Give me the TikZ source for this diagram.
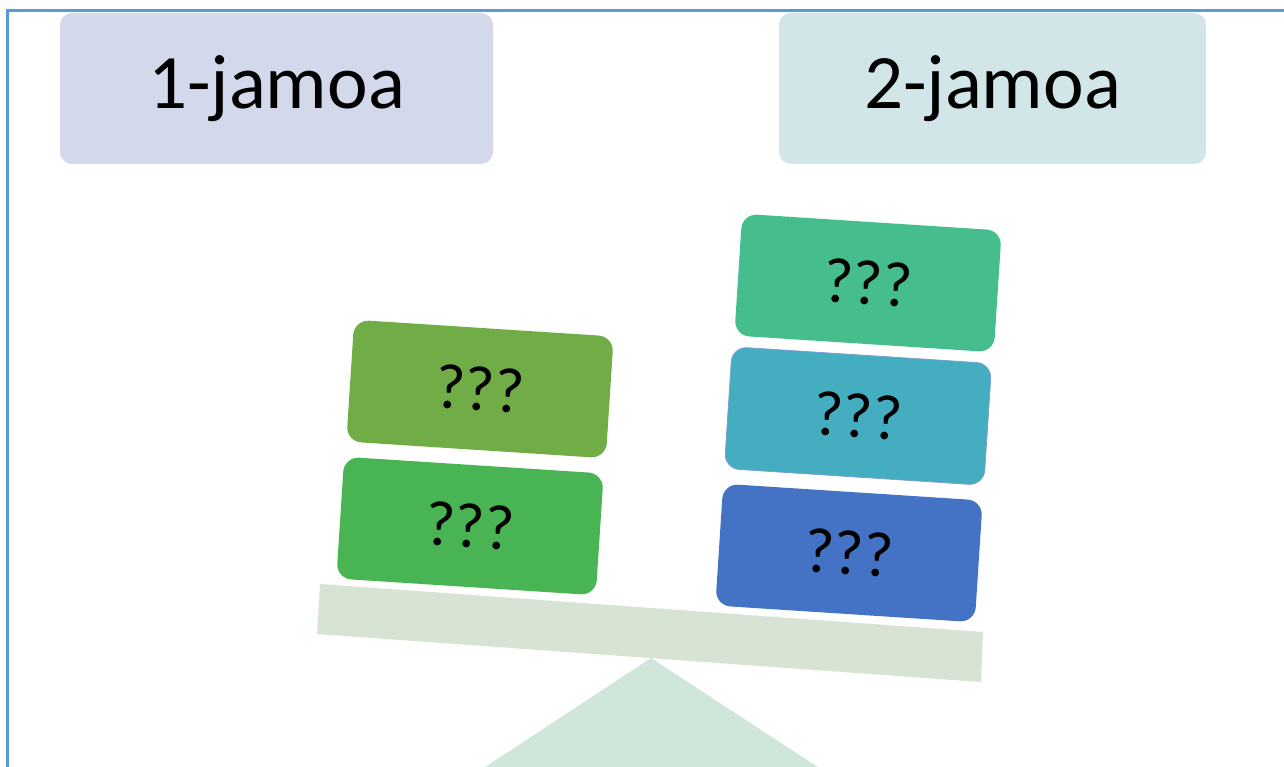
\documentclass[tikz,border=0pt]{standalone}
\usepackage{fontspec}
\setmainfont{Carlito}
\definecolor{frameblue}{HTML}{5B9BD5}
\definecolor{hdrA}{HTML}{D3D8EA}
\definecolor{hdrB}{HTML}{D2E5E8}
\definecolor{olive}{HTML}{70AD47}
\definecolor{grn}{HTML}{48B453}
\definecolor{mint}{HTML}{45BD8C}
\definecolor{teal}{HTML}{44AEC0}
\definecolor{blu}{HTML}{4472C4}
\definecolor{beamc}{HTML}{D7E4D3}
\definecolor{pivotc}{HTML}{D1E6DA}
\begin{document}
\begin{tikzpicture}[x=1pt,y=-1pt,
  hdr/.style={rounded corners=12pt, minimum height=151pt, inner sep=0pt,
    font=\fontsize{77}{80}\selectfont},
  blk/.style={rounded corners=15pt, minimum width=260pt, minimum height=122pt, inner sep=0pt,
    rotate=-3.7, font=\fontsize{64}{68}\selectfont}]
\useasboundingbox (0,0) rectangle (1284,767);
\clip (0,0) rectangle (1284,767);
\fill[white] (0,0) rectangle (1284,767);
% frame
\draw[frameblue, line width=3pt] (7,800) -- (7,11) -- (1300,11);
% headers
\node[hdr, fill=hdrA, minimum width=433pt] (h1) at (276.5,88.5) {1-jamoa};
\node[hdr, fill=hdrB, minimum width=427pt] (h2) at (992.5,88.5) {2-jamoa};
% pivot triangle
\fill[pivotc] (651,658) coordinate (apex) -- (470,777) -- (833,777) -- cycle;
% beam
\fill[beamc] (320,584) coordinate (b1) -- (983,632) coordinate (b2) -- (981,682) coordinate (b3) -- (317,634) coordinate (b4) -- cycle;
% left stack
\node[blk, fill=olive] (l2) at (480,389) {???};
\node[blk, fill=grn] (l1) at (470,526) {???};
% right stack
\node[blk, fill=mint] (r3) at (868,283) {???};
\node[blk, fill=teal, draw=blu!70, line width=0.8pt] (r2) at (858,416) {???};
\node[blk, fill=blu] (r1) at (849,553) {???};
\end{tikzpicture}
\end{document}
